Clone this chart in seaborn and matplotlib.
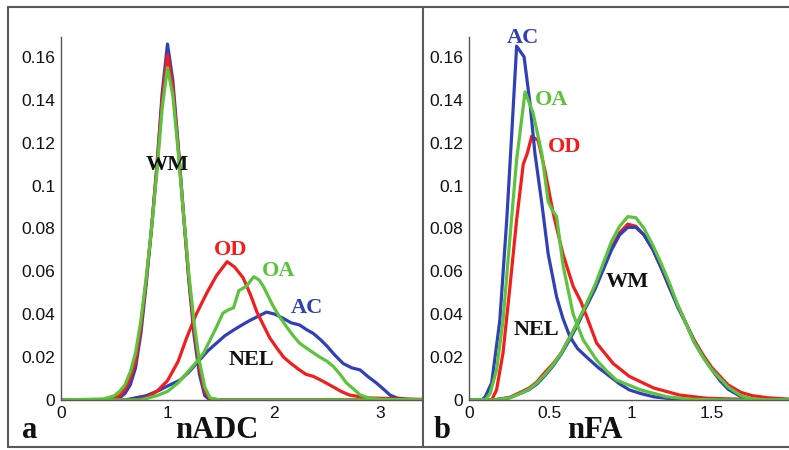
import matplotlib
matplotlib.use("Agg")
import matplotlib.pyplot as plt
from matplotlib.lines import Line2D
import seaborn as sns

# colours
blue = "#3040b8"
red = "#f41c1c"
green = "#5cc43c"

# ---- panel a: nADC ----
adc_wm_x = [0, 0.4, 0.5, 0.55, 0.6, 0.65, 0.7, 0.75, 0.8, 0.85, 0.9, 0.95, 1.0,
            1.05, 1.1, 1.15, 1.2, 1.25, 1.3, 1.35, 1.4, 1.5, 3.4]
adc_wm_green = [0, 0.0005, 0.002, 0.004, 0.007, 0.013, 0.022, 0.037, 0.057, 0.080, 0.106, 0.136, 0.155,
                0.142, 0.116, 0.087, 0.059, 0.036, 0.018, 0.006, 0.001, 0, 0]
adc_wm_blue = [0, 0, 0.0005, 0.001, 0.003, 0.007, 0.015, 0.031, 0.054, 0.080, 0.109, 0.143, 0.166,
               0.149, 0.119, 0.087, 0.056, 0.030, 0.012, 0.002, 0, 0, 0]
adc_wm_red = [0, 0, 0.001, 0.002, 0.005, 0.010, 0.018, 0.034, 0.056, 0.080, 0.108, 0.140, 0.161,
              0.146, 0.118, 0.087, 0.057, 0.033, 0.015, 0.004, 0.0005, 0, 0]

adc_od_x = [0, 0.7, 0.8, 0.9, 1.0, 1.1, 1.18, 1.27, 1.37, 1.46, 1.56, 1.63, 1.71, 1.78, 1.84, 1.9,
            1.96, 2.03, 2.09, 2.16, 2.24, 2.3, 2.37, 2.45, 2.56, 2.63, 2.71, 2.87, 3.0, 3.2, 3.4]
adc_od_y = [0, 0, 0.001, 0.004, 0.009, 0.018, 0.029, 0.040, 0.050, 0.058, 0.0645, 0.062, 0.057, 0.049,
            0.041, 0.035, 0.029, 0.024, 0.020, 0.017, 0.014, 0.012, 0.011, 0.009, 0.006, 0.004, 0.0023,
            0.001, 0.0008, 0.0005, 0.0003]

adc_oa_x = [0, 0.75, 0.9, 1.0, 1.1, 1.18, 1.26, 1.34, 1.4, 1.46, 1.52, 1.57, 1.62, 1.67, 1.74, 1.81,
            1.86, 1.9, 1.99, 2.05, 2.12, 2.18, 2.24, 2.34, 2.43, 2.5, 2.56, 2.62, 2.68, 2.75, 2.81, 2.9,
            3.0, 3.4]
adc_oa_y = [0, 0, 0.002, 0.004, 0.008, 0.0125, 0.017, 0.022, 0.028, 0.034, 0.0405, 0.042, 0.043, 0.051,
            0.053, 0.0575, 0.056, 0.053, 0.044, 0.039, 0.034, 0.030, 0.0265, 0.023, 0.020, 0.018, 0.0155,
            0.012, 0.008, 0.005, 0.0023, 0.0008, 0.0003, 0]

adc_ac_x = [0, 0.6, 0.8, 0.93, 1.02, 1.12, 1.2, 1.3, 1.38, 1.46, 1.54, 1.62, 1.7, 1.77, 1.85, 1.93,
            2.01, 2.09, 2.16, 2.24, 2.3, 2.37, 2.44, 2.5, 2.57, 2.65, 2.73, 2.81, 2.88, 2.96, 3.03, 3.09,
            3.15, 3.25, 3.4]
adc_ac_y = [0, 0, 0.002, 0.0047, 0.007, 0.0093, 0.013, 0.0186, 0.023, 0.0265, 0.030, 0.0326, 0.035,
            0.037, 0.039, 0.041, 0.040, 0.038, 0.036, 0.035, 0.033, 0.031, 0.028, 0.025, 0.021, 0.017,
            0.015, 0.014, 0.011, 0.008, 0.005, 0.0023, 0.001, 0.0003, 0]

# ---- panel b: nFA ----
fa_ac_x = [0, 0.08, 0.1, 0.14, 0.19, 0.233, 0.263, 0.294, 0.34, 0.377, 0.407, 0.449, 0.489, 0.541,
           0.58, 0.623, 0.67, 0.726, 0.8, 0.87, 0.93, 0.99, 1.06, 1.14, 1.28, 1.5, 2.0]
fa_ac_y = [0, 0, 0.0015, 0.008, 0.037, 0.084, 0.123, 0.165, 0.160, 0.138, 0.115, 0.092, 0.068, 0.048,
           0.038, 0.0295, 0.024, 0.020, 0.015, 0.011, 0.0075, 0.0047, 0.003, 0.0015, 0.0003, 0, 0]

fa_oa_x = [0, 0.1, 0.13, 0.17, 0.21, 0.253, 0.294, 0.346, 0.395, 0.449, 0.489, 0.51, 0.541, 0.58,
           0.61, 0.643, 0.705, 0.788, 0.85, 0.91, 1.06, 1.22, 1.38, 1.6, 2.0]
fa_oa_y = [0, 0, 0.003, 0.014, 0.037, 0.076, 0.112, 0.1437, 0.134, 0.115, 0.0925, 0.089, 0.0855, 0.063,
           0.052, 0.040, 0.028, 0.0186, 0.0135, 0.0093, 0.0047, 0.0015, 0.0003, 0, 0]

fa_od_x = [0, 0.14, 0.17, 0.21, 0.253, 0.294, 0.335, 0.36, 0.387, 0.427, 0.469, 0.52, 0.58, 0.643,
           0.69, 0.726, 0.788, 0.89, 0.99, 1.14, 1.3, 1.47, 1.7, 2.0]
fa_od_y = [0, 0, 0.0047, 0.022, 0.053, 0.084, 0.110, 0.115, 0.123, 0.121, 0.107, 0.087, 0.068, 0.053,
           0.046, 0.039, 0.0265, 0.017, 0.011, 0.0056, 0.0023, 0.0008, 0.0003, 0]

fa_wm_x = [0, 0.15, 0.25, 0.315, 0.37, 0.42, 0.47, 0.52, 0.57, 0.62, 0.67, 0.72, 0.78, 0.83, 0.88,
           0.93, 0.98, 1.03, 1.08, 1.136, 1.19, 1.24, 1.29, 1.344, 1.39, 1.445, 1.5, 1.55, 1.6, 1.68,
           1.75, 1.85, 2.0]
fa_wm_green = [0, 0, 0.001, 0.003, 0.005, 0.008, 0.012, 0.0165, 0.022, 0.029, 0.036, 0.044, 0.054, 0.064,
               0.074, 0.081, 0.0855, 0.085, 0.080, 0.072, 0.063, 0.054, 0.044, 0.035, 0.027, 0.020, 0.014,
               0.010, 0.006, 0.002, 0.0005, 0, 0]
fa_wm_blue = [0, 0, 0.001, 0.003, 0.0048, 0.0075, 0.0115, 0.016, 0.0215, 0.028, 0.035, 0.043, 0.052, 0.061,
              0.070, 0.077, 0.0805, 0.0805, 0.077, 0.070, 0.061, 0.052, 0.043, 0.035, 0.027, 0.020, 0.014,
              0.009, 0.005, 0.0015, 0.0003, 0, 0]
fa_wm_red = [0, 0, 0.0012, 0.0035, 0.0055, 0.0085, 0.013, 0.017, 0.022, 0.029, 0.036, 0.044, 0.053, 0.062,
             0.071, 0.078, 0.082, 0.081, 0.077, 0.070, 0.061, 0.052, 0.044, 0.035, 0.028, 0.021, 0.015,
             0.011, 0.007, 0.0035, 0.002, 0.001, 0.0003]

y_ticks = [0, 0.02, 0.04, 0.06, 0.08, 0.1, 0.12, 0.14, 0.16]
y_ticklabels = ["0", "0.02", "0.04", "0.06", "0.08", "0.1", "0.12", "0.14", "0.16"]
adc_ticks = [0, 1, 2, 3]
adc_ticklabels = ["0", "1", "2", "3"]
fa_ticks = [0, 0.5, 1, 1.5, 2]
fa_ticklabels = ["0", "0.5", "1", "1.5", "2"]


def style_axes(ax, xmax, xticks, xticklabels):
    ax.set_xlim(0, xmax)
    ax.set_ylim(0, 0.1694)
    ax.set_yticks(y_ticks)
    ax.set_yticklabels(y_ticklabels)
    ax.set_xticks(xticks)
    ax.set_xticklabels(xticklabels)
    for s in ["top", "right"]:
        ax.spines[s].set_visible(False)
    for s in ["left", "bottom"]:
        ax.spines[s].set_color("#555555")
        ax.spines[s].set_linewidth(1.0)
    ax.tick_params(direction="in", length=4, width=1, color="#555555",
                   labelsize=12.5, pad=4, labelcolor="#111111")
    ax.set_xlabel("")
    ax.set_ylabel("")


def main():
    sns.set_style("white")
    plt.rcParams["font.family"] = ["Liberation Sans", "DejaVu Sans"]

    fig = plt.figure(figsize=(7.89, 4.5), dpi=100)
    ax1 = fig.add_axes([61 / 789, 50 / 450, 361 / 789, 363.3 / 450])
    ax2 = fig.add_axes([469 / 789, 50 / 450, 324 / 789, 363.3 / 450])

    lw = 2.3
    # panel a
    sns.lineplot(x=adc_wm_x, y=adc_wm_blue, color=blue, lw=lw, ax=ax1)
    sns.lineplot(x=adc_wm_x, y=adc_wm_red, color=red, lw=lw, ax=ax1)
    sns.lineplot(x=adc_ac_x, y=adc_ac_y, color=blue, lw=lw, ax=ax1)
    sns.lineplot(x=adc_od_x, y=adc_od_y, color=red, lw=lw, ax=ax1)
    sns.lineplot(x=adc_oa_x, y=adc_oa_y, color=green, lw=lw, ax=ax1)
    sns.lineplot(x=adc_wm_x, y=adc_wm_green, color=green, lw=lw, ax=ax1)
    style_axes(ax1, 3.39, adc_ticks, adc_ticklabels)

    # panel b
    sns.lineplot(x=fa_wm_x, y=fa_wm_red, color=red, lw=lw, ax=ax2)
    sns.lineplot(x=fa_wm_x, y=fa_wm_blue, color=blue, lw=lw, ax=ax2)
    sns.lineplot(x=fa_od_x, y=fa_od_y, color=red, lw=lw, ax=ax2)
    sns.lineplot(x=fa_ac_x, y=fa_ac_y, color=blue, lw=lw, ax=ax2)
    sns.lineplot(x=fa_oa_x, y=fa_oa_y, color=green, lw=lw, ax=ax2)
    sns.lineplot(x=fa_wm_x, y=fa_wm_green, color=green, lw=lw, ax=ax2)
    style_axes(ax2, 2.0, fa_ticks, fa_ticklabels)

    serif = dict(family=["Liberation Serif", "DejaVu Serif"], weight="bold")
    lab = dict(fontsize=16, ha="center", va="center", clip_on=False, **serif)

    ax1.text(1.0, 0.1095, "WM", color="#111111", **lab)
    ax1.text(1.59, 0.070, "OD", color=red, **lab)
    ax1.text(2.04, 0.060, "OA", color=green, **lab)
    ax1.text(2.31, 0.043, "AC", color=blue, **lab)
    ax1.text(1.79, 0.0186, "NEL", color="#111111", **lab)

    ax2.text(0.333, 0.169, "AC", color=blue, **lab)
    ax2.text(0.51, 0.140, "OA", color=green, **lab)
    ax2.text(0.593, 0.118, "OD", color=red, **lab)
    ax2.text(0.98, 0.055, "WM", color="#111111", **lab)
    ax2.text(0.418, 0.0326, "NEL", color="#111111", **lab)

    ax1.set_xlabel("nADC", fontsize=22, va="center", color="#111111", **serif)
    ax1.xaxis.set_label_coords(156 / 361, -30 / 363.3)
    ax2.set_xlabel("nFA", fontsize=22, va="center", color="#111111", **serif)
    ax2.xaxis.set_label_coords(126 / 324, -30 / 363.3)

    fig.text(30 / 789, 1 - 430 / 450, "a", fontsize=22, ha="center", va="center",
             color="#111111", **serif)
    fig.text(442 / 789, 1 - 430 / 450, "b", fontsize=22, ha="center", va="center",
             color="#111111", **serif)

    # outer frame and divider
    fc = "#5a5a5a"
    fig.add_artist(Line2D([8 / 789, 1.0], [1 - 7 / 450, 1 - 7 / 450], color=fc, lw=1.5,
                          transform=fig.transFigure))
    fig.add_artist(Line2D([8 / 789, 1.0], [1 - 447 / 450, 1 - 447 / 450], color=fc, lw=1.5,
                          transform=fig.transFigure))
    fig.add_artist(Line2D([8 / 789, 8 / 789], [1 - 7 / 450, 1 - 447 / 450], color=fc, lw=1.5,
                          transform=fig.transFigure))
    fig.add_artist(Line2D([422.5 / 789, 422.5 / 789], [1 - 7 / 450, 1 - 447 / 450], color=fc,
                          lw=1.5, transform=fig.transFigure))

    fig.savefig("out.png", dpi=100)


if __name__ == "__main__":
    main()
